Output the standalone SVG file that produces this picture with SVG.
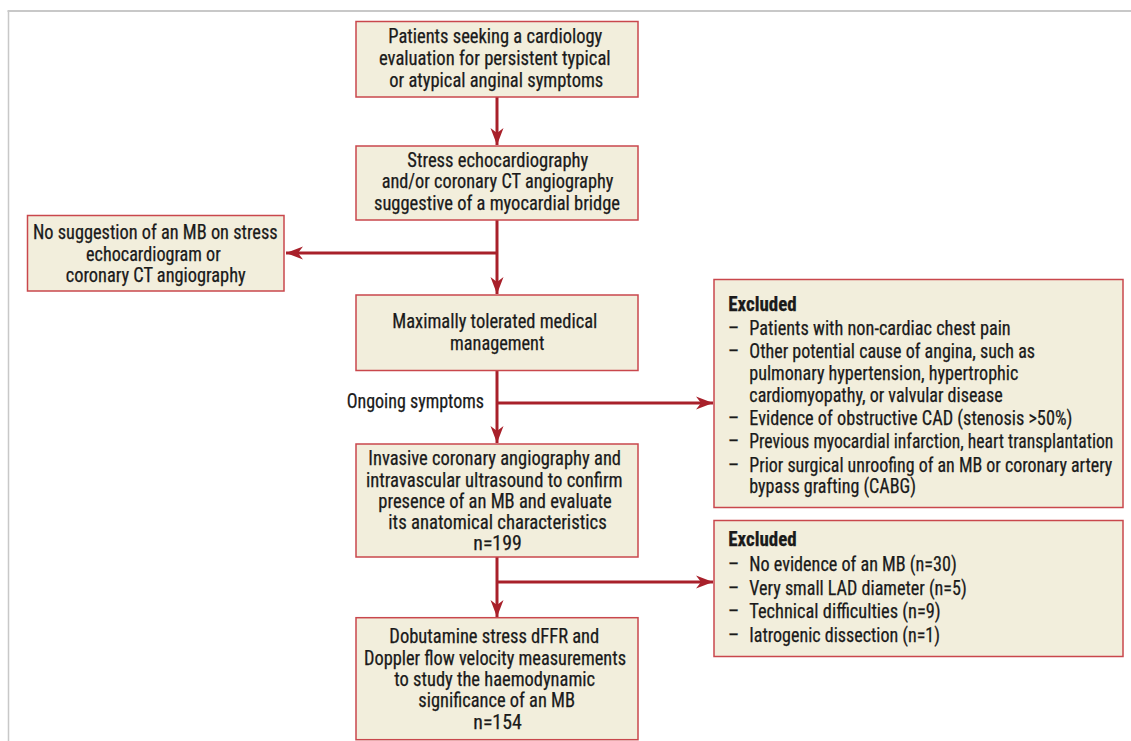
<svg xmlns="http://www.w3.org/2000/svg" width="1131" height="741" viewBox="0 0 1131 741">
<style>
.box{fill:#f2eedc;stroke:#c9474c;stroke-width:1.5}
.t{font-family:"Liberation Sans Narrow","Roboto Condensed","DejaVu Sans Condensed","Liberation Sans",sans-serif;font-size:19.5px;fill:#1a1a1a;stroke:#1a1a1a;stroke-width:0.25}
.c{text-anchor:middle}
.b{font-weight:bold}
.ln{stroke:#a8202a;stroke-width:3;fill:none}
.frame{stroke:#c8c8c8;fill:none}
</style>
<defs>
<marker id="ah" markerUnits="userSpaceOnUse" markerWidth="20" markerHeight="16" viewBox="-18 -8 20 16" refX="0" refY="0" orient="auto">
<path d="M0,0 L-17,-6.5 L-12,0 L-17,6.5 Z" fill="#a8202a"/>
</marker>
</defs>
<rect width="1131" height="741" fill="#ffffff"/>
<g id="frame">
<line class="frame" x1="7.5" y1="11" x2="1131" y2="11" stroke-width="2"/>
<line class="frame" x1="8.5" y1="11" x2="8.5" y2="741" stroke-width="1.5"/>
</g>
<g id="connectors">
<line class="ln" x1="497" y1="97" x2="497" y2="145" marker-end="url(#ah)"/>
<line class="ln" x1="497" y1="220" x2="497" y2="294" marker-end="url(#ah)"/>
<line class="ln" x1="497" y1="253" x2="286" y2="253" marker-end="url(#ah)"/>
<line class="ln" x1="497" y1="371" x2="497" y2="443" marker-end="url(#ah)"/>
<line class="ln" x1="497" y1="403" x2="713" y2="403" marker-end="url(#ah)"/>
<line class="ln" x1="497" y1="557" x2="497" y2="617" marker-end="url(#ah)"/>
<line class="ln" x1="497" y1="582" x2="713" y2="582" marker-end="url(#ah)"/>
</g>
<g id="n1">
<rect class="box" x="356" y="21.5" width="282" height="75.5"/>
<text class="t c" x="495.3" y="43.3" textLength="214" lengthAdjust="spacingAndGlyphs">Patients seeking a cardiology</text>
<text class="t c" x="494.8" y="65" textLength="231.7" lengthAdjust="spacingAndGlyphs">evaluation for persistent typical</text>
<text class="t c" x="496.3" y="86.5" textLength="214" lengthAdjust="spacingAndGlyphs">or atypical anginal symptoms</text>
</g>
<g id="n2">
<rect class="box" x="356" y="146" width="282" height="74"/>
<text class="t c" x="497.8" y="166.5" textLength="181" lengthAdjust="spacingAndGlyphs">Stress echocardiography</text>
<text class="t c" x="497.5" y="188" textLength="231.7" lengthAdjust="spacingAndGlyphs">and/or coronary CT angiography</text>
<text class="t c" x="497" y="209.5" textLength="246" lengthAdjust="spacingAndGlyphs">suggestive of a myocardial bridge</text>
</g>
<g id="n3">
<rect class="box" x="27.5" y="215.5" width="256.5" height="75.5"/>
<text class="t c" x="155.3" y="239" textLength="244.7" lengthAdjust="spacingAndGlyphs">No suggestion of an MB on stress</text>
<text class="t c" x="153.4" y="260.5" textLength="134.7" lengthAdjust="spacingAndGlyphs">echocardiogram or</text>
<text class="t c" x="155.7" y="282" textLength="180" lengthAdjust="spacingAndGlyphs">coronary CT angiography</text>
</g>
<g id="n4">
<rect class="box" x="356" y="295" width="282" height="75.5"/>
<text class="t c" x="494.8" y="328.3" textLength="205" lengthAdjust="spacingAndGlyphs">Maximally tolerated medical</text>
<text class="t c" x="497.2" y="349.5" textLength="94.3" lengthAdjust="spacingAndGlyphs">management</text>
</g>
<text id="lbl-ongoing" class="t" x="346.7" y="408.3" textLength="137.3" lengthAdjust="spacingAndGlyphs">Ongoing symptoms</text>
<g id="n5">
<rect class="box" x="714" y="279.5" width="409" height="228"/>
<text class="t b" x="728.3" y="310.7" textLength="68.4" lengthAdjust="spacingAndGlyphs">Excluded</text>
<text class="t" x="728" y="335">–</text><text class="t" x="749.3" y="335" textLength="261.4" lengthAdjust="spacingAndGlyphs">Patients with non-cardiac chest pain</text>
<text class="t" x="728" y="358.3">–</text><text class="t" x="749.3" y="358.3" textLength="285.7" lengthAdjust="spacingAndGlyphs">Other potential cause of angina, such as</text>
<text class="t" x="749.3" y="380" textLength="269" lengthAdjust="spacingAndGlyphs">pulmonary hypertension, hypertrophic</text>
<text class="t" x="749.3" y="401.7" textLength="253.4" lengthAdjust="spacingAndGlyphs">cardiomyopathy, or valvular disease</text>
<text class="t" x="728" y="425">–</text><text class="t" x="749.3" y="425" textLength="323" lengthAdjust="spacingAndGlyphs">Evidence of obstructive CAD (stenosis &gt;50%)</text>
<text class="t" x="728" y="448.3">–</text><text class="t" x="749.3" y="448.3" textLength="364" lengthAdjust="spacingAndGlyphs">Previous myocardial infarction, heart transplantation</text>
<text class="t" x="728" y="471.7">–</text><text class="t" x="749.3" y="471.7" textLength="363" lengthAdjust="spacingAndGlyphs">Prior surgical unroofing of an MB or coronary artery</text>
<text class="t" x="749.3" y="493.3" textLength="166.7" lengthAdjust="spacingAndGlyphs">bypass grafting (CABG)</text>
</g>
<g id="n6">
<rect class="box" x="356" y="444" width="282" height="113"/>
<text class="t c" x="494.7" y="465" textLength="252.7" lengthAdjust="spacingAndGlyphs">Invasive coronary angiography and</text>
<text class="t c" x="494.3" y="486.7" textLength="256.7" lengthAdjust="spacingAndGlyphs">intravascular ultrasound to confirm</text>
<text class="t c" x="495" y="508.3" textLength="233.4" lengthAdjust="spacingAndGlyphs">presence of an MB and evaluate</text>
<text class="t c" x="497.5" y="529.3" textLength="218.4" lengthAdjust="spacingAndGlyphs">its anatomical characteristics</text>
<text class="t c" x="497.5" y="550.3" textLength="48.4" lengthAdjust="spacingAndGlyphs">n=199</text>
</g>
<g id="n7">
<rect class="box" x="714" y="520.5" width="409" height="136"/>
<text class="t b" x="728.3" y="545.7" textLength="68.4" lengthAdjust="spacingAndGlyphs">Excluded</text>
<text class="t" x="728" y="571">–</text><text class="t" x="749.3" y="571" textLength="207.4" lengthAdjust="spacingAndGlyphs">No evidence of an MB (n=30)</text>
<text class="t" x="728" y="595">–</text><text class="t" x="749.3" y="595" textLength="217.4" lengthAdjust="spacingAndGlyphs">Very small LAD diameter (n=5)</text>
<text class="t" x="728" y="618.3">–</text><text class="t" x="749.3" y="618.3" textLength="191.4" lengthAdjust="spacingAndGlyphs">Technical difficulties (n=9)</text>
<text class="t" x="728" y="641.7">–</text><text class="t" x="749.3" y="641.7" textLength="190.7" lengthAdjust="spacingAndGlyphs">Iatrogenic dissection (n=1)</text>
</g>
<g id="n8">
<rect class="box" x="356" y="617.7" width="282" height="122"/>
<text class="t c" x="494.3" y="643.3" textLength="210" lengthAdjust="spacingAndGlyphs">Dobutamine stress dFFR and</text>
<text class="t c" x="495" y="665" textLength="262" lengthAdjust="spacingAndGlyphs">Doppler flow velocity measurements</text>
<text class="t c" x="494.7" y="686.3" textLength="200.7" lengthAdjust="spacingAndGlyphs">to study the haemodynamic</text>
<text class="t c" x="496.7" y="707.3" textLength="156.7" lengthAdjust="spacingAndGlyphs">significance of an MB</text>
<text class="t c" x="497.5" y="728.6" textLength="48.4" lengthAdjust="spacingAndGlyphs">n=154</text>
</g>
</svg>
